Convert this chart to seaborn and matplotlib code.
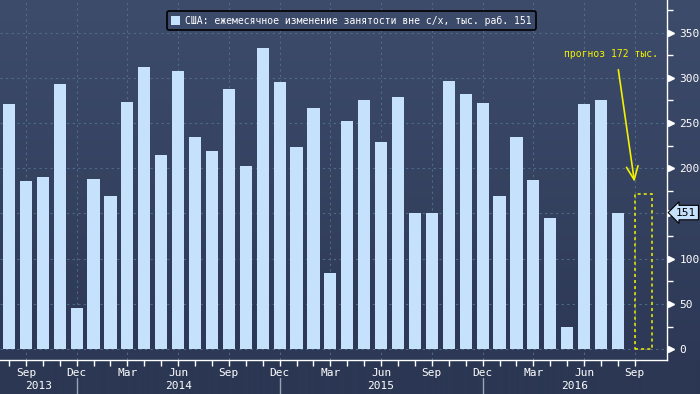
"""
US nonfarm payrolls, monthly change (Bloomberg-style bar chart)
"""

import numpy as np
import pandas as pd
import matplotlib
matplotlib.use("Agg")
import matplotlib.pyplot as plt
import matplotlib.transforms as mtransforms
from matplotlib.patches import Patch, Rectangle
import seaborn as sns

# ─── Data ─────────────────────────────────────────────────────────────────────
months = pd.date_range("2013-08-01", "2016-08-01", freq="MS")
payrolls = [271, 186, 190, 293, 45,
            188, 169, 273, 312, 215, 308, 234, 219, 288, 202, 333, 295,
            223, 267, 84, 252, 275, 229, 279, 151, 150, 297, 282, 272,
            169, 235, 187, 145, 24, 271, 275, 151]
forecast_month = pd.Timestamp("2016-09-01")
forecast_value = 172
last_value = 151

legend_label = "США: ежемесячное изменение занятости вне с/х, тыс. раб. 151"
forecast_label = "прогноз 172 тыс."
y_ticks = [0, 50, 100, 150, 200, 250, 300, 350]
y_labels = ["0", "50", "100", "", "200", "250", "300", "350"]
tick_months = ["Sep", "Dec", "Mar", "Jun"]
years = [2013, 2014, 2015, 2016]

# ─── Colours ──────────────────────────────────────────────────────────────────
BAR = "#c5e1fc"
BG_TOP = np.array([0x3e, 0x4c, 0x6c]) / 255
BG_BOT = np.array([0x2c, 0x38, 0x55]) / 255
BG_FOOT = np.array([0x2b, 0x37, 0x53]) / 255
GRID = "#4f6b88"
YELLOW = "#f2f200"

sns.set_theme(style="white")
plt.rcParams["font.family"] = ["DejaVu Sans Mono", "DejaVu Sans"]

df = pd.DataFrame({"month": months, "value": payrolls})
df["pos"] = np.arange(len(df))
all_months = list(months) + [forecast_month]

W, H = 700, 394
fig = plt.figure(figsize=(W / 100, H / 100), dpi=100)
fig.patch.set_facecolor(BG_FOOT)

# background gradient
bg = fig.add_axes([0, 0, 1, 1], zorder=-1)
grad = np.zeros((H, 1, 3))
top_rows = 360
for i in range(H):
    if i < top_rows:
        t = i / (top_rows - 1)
        grad[i, 0] = BG_TOP * (1 - t) + BG_BOT * t
    else:
        grad[i, 0] = BG_FOOT
bg.imshow(grad, aspect="auto", extent=[0, 1, 0, 1])
bg.set_axis_off()

ax = fig.add_axes([0, 34 / H, 667 / W, 360 / H])
ax.patch.set_alpha(0)

sns.barplot(data=df, x="pos", y="value", color=BAR, saturation=1,
            width=0.72, edgecolor="none", linewidth=0, ax=ax, zorder=3)

xmin, xmax = -0.53, 38.9
ax.set_xlim(xmin, xmax)
ax.set_ylim(-12, 386)

# forecast box
ax.add_patch(Rectangle((len(months), 0), 1.0, forecast_value, fill=False,
                       ec=YELLOW, lw=1.1, ls=(0, (2, 2)), zorder=4))

# ─── Axes styling ─────────────────────────────────────────────────────────────
for s in ["top", "left"]:
    ax.spines[s].set_visible(False)
for s in ["bottom", "right"]:
    ax.spines[s].set_color("white")
    ax.spines[s].set_linewidth(1.0)

quarter_pos = [i for i, m in enumerate(all_months) if m.strftime("%b") in tick_months]
ax.set_xticks(quarter_pos)
ax.set_xticklabels([all_months[i].strftime("%b") for i in quarter_pos],
                   color="white", fontsize=8)
ax.set_xticks(range(len(all_months)), minor=True)
ax.tick_params(axis="x", which="both", direction="out", length=4, width=1,
               color="white", pad=1.5, bottom=True)
ax.set_xlabel("")

ax.yaxis.tick_right()
ax.set_yticks(y_ticks)
ax.set_yticklabels(y_labels, color="white", fontsize=8)
ax.set_yticks(np.arange(25, 400, 50), minor=True)
ax.tick_params(axis="y", which="major", length=0, pad=9, right=True, left=False)
ax.tick_params(axis="y", which="minor", direction="out", length=4, width=1,
               color="white", right=True, left=False)
ax.set_ylabel("")

ax.grid(True, which="major", color=GRID, ls=(0, (2, 3)), lw=0.8)
ax.set_axisbelow(True)

# triangle markers on the right axis
blend = mtransforms.blended_transform_factory(ax.transAxes, ax.transData)
tri = mtransforms.offset_copy(blend, fig=fig, x=4, y=0, units="dots")
ax.plot([1] * len(y_ticks), y_ticks, ls="none", marker=">", ms=5,
        color="white", transform=tri, clip_on=False, zorder=5)

# last value box
ax.text(1.0, last_value, "151", transform=mtransforms.offset_copy(
            blend, fig=fig, x=9, y=0, units="dots"),
        ha="left", va="center", fontsize=8, color="black",
        bbox=dict(boxstyle="larrow,pad=0.2", fc=BAR, ec="black", lw=0.8),
        clip_on=False, zorder=6)

# year labels and separators
seps = [i for i, m in enumerate(all_months) if m.month == 12]
bounds = [xmin] + seps + [xmax]
xblend = mtransforms.blended_transform_factory(ax.transData, ax.transAxes)
for i, yr in enumerate(years):
    mid = (bounds[i] + bounds[i + 1]) / 2
    ax.text(mid, -0.071, str(yr), transform=xblend, ha="center", va="center",
            color="white", fontsize=8)
for s in seps:
    ax.plot([s, s], [-0.05, -0.1], transform=xblend, color="#9aa3b5",
            lw=1, clip_on=False)

# legend
leg = ax.legend(handles=[Patch(fc=BAR, ec="none")], labels=[legend_label],
                loc="upper center", bbox_to_anchor=(0.527, 0.982),
                frameon=True, facecolor="#3c4a6a", edgecolor="black",
                fancybox=True, fontsize=7, handlelength=0.9, handleheight=0.9,
                handletextpad=0.5, borderpad=0.45)
leg.get_frame().set_linewidth(1.2)
leg.get_frame().set_alpha(1)
for t in leg.get_texts():
    t.set_color("white")

# forecast annotation
ax.annotate("", xy=(len(months), 182), xytext=(len(months) - 1.0, 312),
            arrowprops=dict(arrowstyle="->,head_length=0.8,head_width=0.35",
                            color=YELLOW, lw=1.2), zorder=6)
ax.text(len(months) - 1.4, 326, forecast_label, ha="center", va="center",
        color=YELLOW, fontsize=7)

plt.savefig("out.png", dpi=100, facecolor=fig.get_facecolor())
